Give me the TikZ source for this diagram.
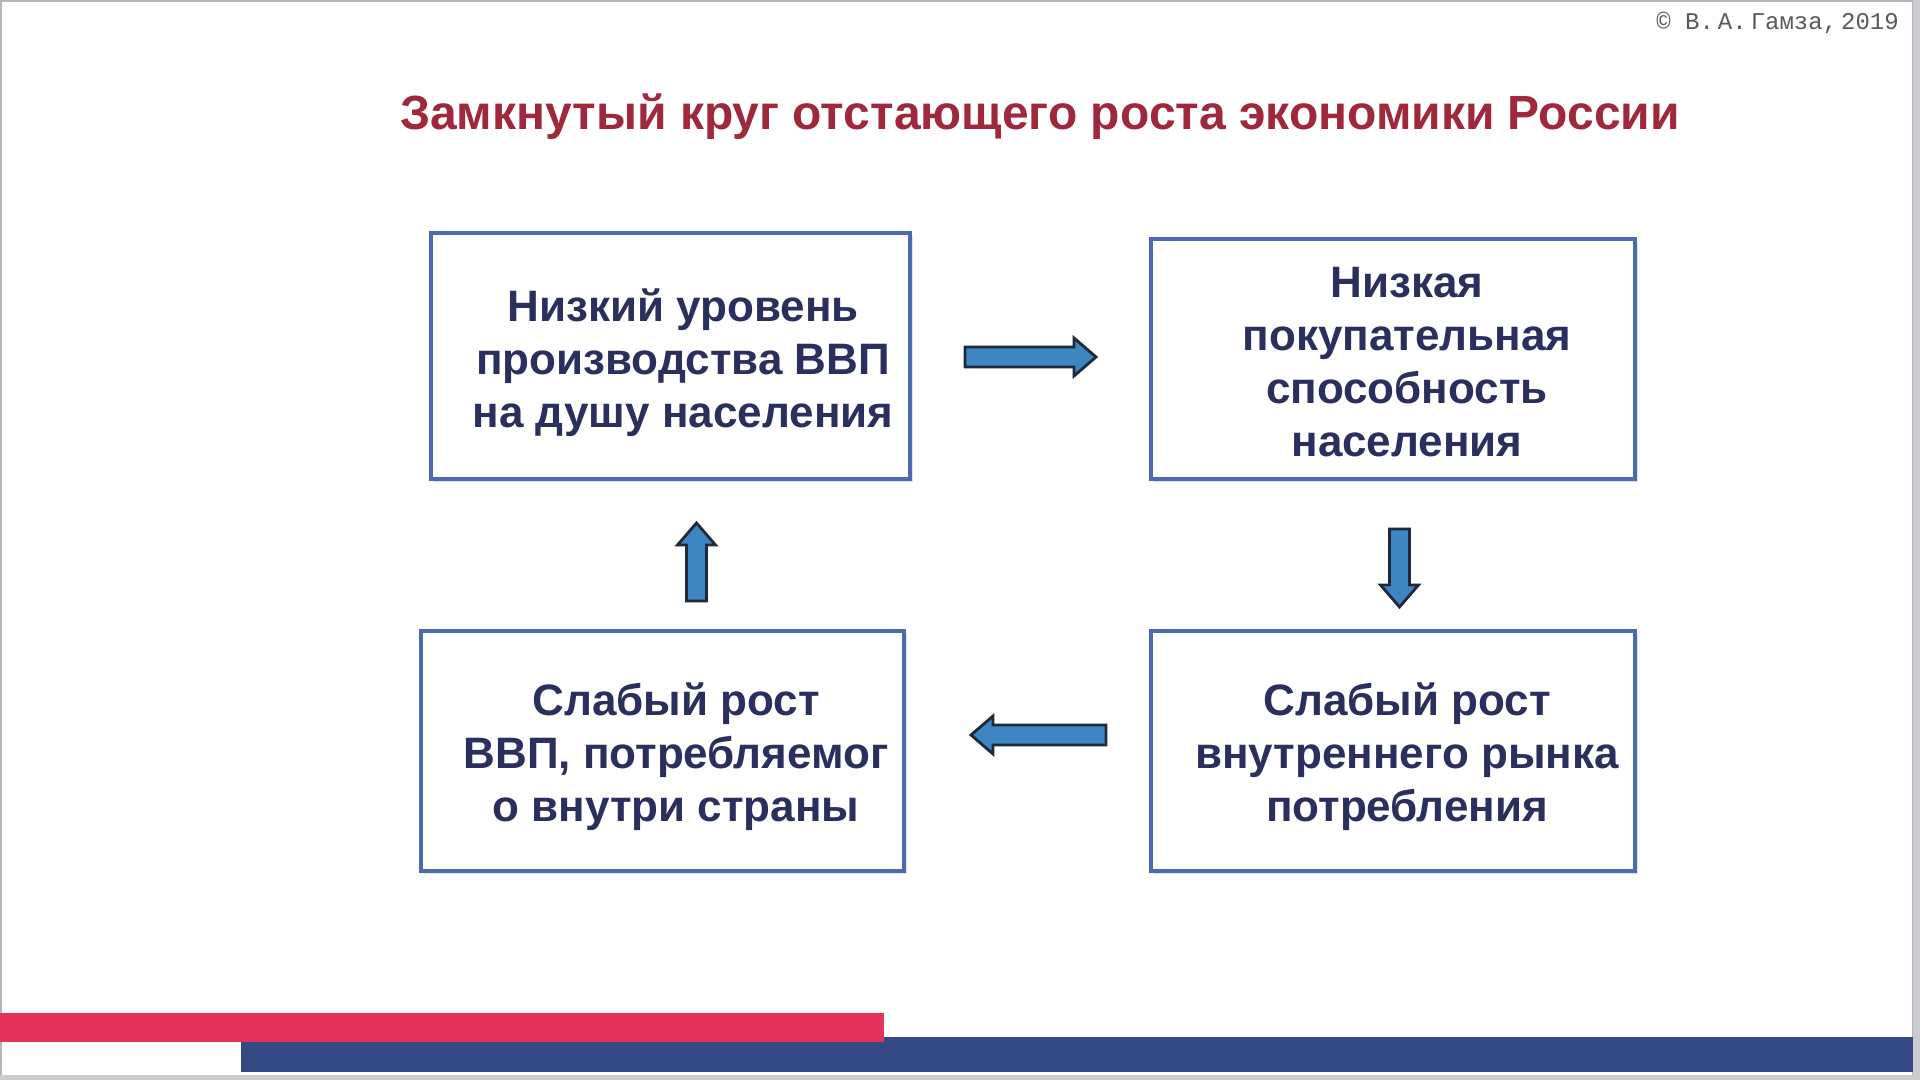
\documentclass[tikz,border=0pt]{standalone}
\usepackage{fontspec}
\setmainfont{Liberation Sans}
\newfontfamily\copyfont{Liberation Mono}
\definecolor{titlered}{HTML}{A0283C}
\definecolor{boxblue}{HTML}{4E6AAE}
\definecolor{textnavy}{HTML}{2B2F5E}
\definecolor{arrowfill}{HTML}{3D86C2}
\definecolor{arrowline}{HTML}{1E2A3A}
\definecolor{barred}{HTML}{E5325A}
\definecolor{barblue}{HTML}{354A85}
\definecolor{framegray}{HTML}{B4B6BA}
\usetikzlibrary{shadows}
\tikzset{
  box/.style={draw=boxblue, line width=4pt, fill=white, inner sep=0pt,
    drop shadow={shadow xshift=3pt, shadow yshift=-3pt, opacity=0.25}},
  boxtext/.style={text=textnavy, font=\fontsize{44}{53}\selectfont\bfseries, align=center, inner sep=0pt},
  arrowstyle/.style={fill=arrowfill, draw=arrowline, line width=2.8pt, line join=miter},
  pics/barrow/.style={code={
    \draw[arrowstyle] (-#1/2,-10) -- (#1/2-22,-10) -- (#1/2-22,-19) -- (#1/2,0)
      -- (#1/2-22,19) -- (#1/2-22,10) -- (-#1/2,10) -- cycle;}}
}
\begin{document}
\begin{tikzpicture}[x=1pt,y=1pt]
\useasboundingbox (0,0) rectangle (1920,1080);
\fill[white] (0,0) rectangle (1920,1080);
% slide frame
\draw[framegray, line width=2pt] (1,1) rectangle (1913,1079);
\fill[framegray!70] (1913,0) rectangle (1920,1080);
\fill[framegray!70] (0,0) rectangle (1920,5);

% title
\node[text=titlered, font=\fontsize{48}{56}\selectfont\bfseries, inner sep=0pt] (title) at (1040,963) {Замкнутый круг отстающего роста экономики России};
% copyright
\node[text=black!65, font=\copyfont\fontsize{24}{28}\selectfont, anchor=east, inner sep=0pt] (copy) at (1899,1057) {© В.\,А.\,Гамза,\,2019};

% boxes
\node[box, minimum width=479pt, minimum height=246pt] (b1) at (670.5,724) {};
\node[box, minimum width=484pt, minimum height=240pt] (b2) at (1393,721) {};
\node[box, minimum width=483pt, minimum height=240pt] (b3) at (662.5,329) {};
\node[box, minimum width=484pt, minimum height=240pt] (b4) at (1393,329) {};

\node[boxtext] (t1) at (683,717) {Низкий уровень\\производства ВВП\\на душу населения};
\node[boxtext] (t2) at (1407,718) {Низкая\\покупательная\\способность\\населения};
\node[boxtext] (t3) at (676,323) {Слабый рост\\ВВП, потребляемог\\о внутри страны};
\node[boxtext] (t4) at (1407,323) {Слабый рост\\внутреннего рынка\\потребления};

% block arrows
\pic (a12) at (1030.5,723) {barrow=131};
\pic[rotate=-90] (a24) at (1399.5,512) {barrow=78};
\pic[rotate=180] (a43) at (1038.5,345) {barrow=135};
\pic[rotate=90] (a31) at (696.5,518) {barrow=78};

% bottom bars
\fill[barblue] (241,8) rectangle (1913,43);
\fill[barred] (0,38) rectangle (884,67);
\end{tikzpicture}
\end{document}
